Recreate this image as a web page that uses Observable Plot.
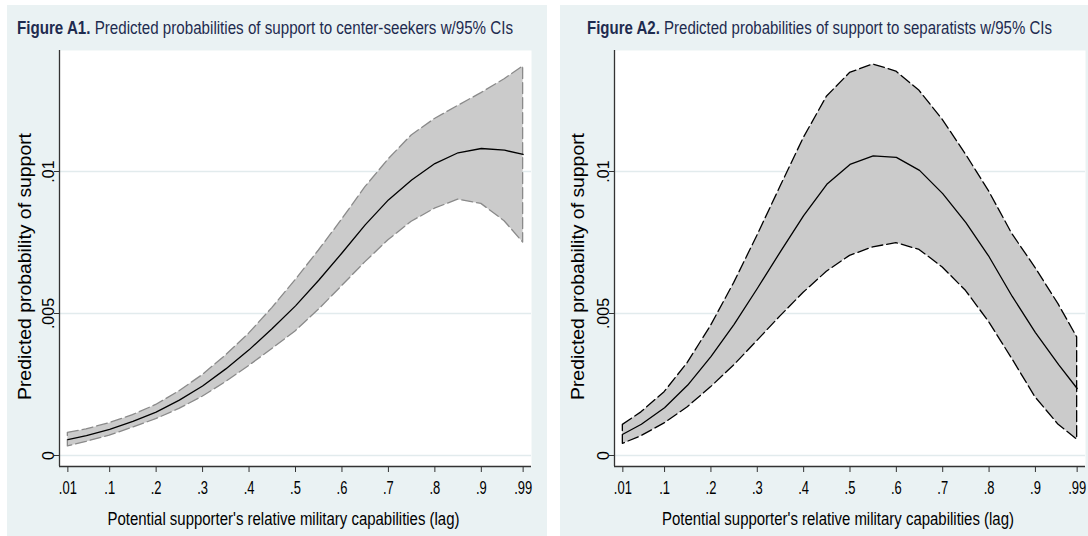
<!DOCTYPE html>
<html>
<head>
<meta charset="utf-8">
<script src="https://cdn.jsdelivr.net/npm/d3@7"></script>
<script src="https://cdn.jsdelivr.net/npm/@observablehq/plot@0.6"></script>
<style>
  html, body { margin: 0; padding: 0; background: #ffffff; }
  #page {
    position: relative; width: 1088px; height: 536px; overflow: hidden;
    font-family: "Liberation Sans Narrow", "Arial Narrow", "Liberation Sans", Arial, sans-serif;
  }
  .panel { position: absolute; top: 5px; height: 531px; background: #eaf2f3; }
  .title {
    position: absolute; top: 15px; white-space: nowrap; line-height: 1;
    font-size: 17.5px; color: #1e2b4f; transform-origin: 0 50%;
  }
  .title b { font-weight: bold; }
  .panel svg { position: absolute; left: 0; top: 40px; overflow: visible; }
</style>
</head>
<body>
<div id="page">
  <div class="panel" id="left" style="left:7px;width:540px;">
    <div class="title" data-width="496" style="left:10px;"><b>Figure A1.</b> Predicted probabilities of support to center-seekers w/95% CIs</div>
  </div>
  <div class="panel" id="right" style="left:560px;width:528px;">
    <div class="title" data-width="465" style="left:27px;"><b>Figure A2.</b> Predicted probabilities of support to separatists w/95% CIs</div>
  </div>
</div>
<script>
// Relative military capabilities at which margins were evaluated
const capability = [0.01, 0.05, 0.10, 0.15, 0.20, 0.25, 0.30, 0.35, 0.40, 0.45, 0.50,
                    0.55, 0.60, 0.65, 0.70, 0.75, 0.80, 0.85, 0.90, 0.95, 0.99];

// Support to center-seekers: predicted probability and 95% CI bounds
const centerFit   = [0.00056, 0.00070, 0.00092, 0.00120, 0.00153, 0.00195, 0.00245, 0.00305, 0.00372, 0.00447, 0.00527,
                     0.00617, 0.00713, 0.00812, 0.00900, 0.00970, 0.01028, 0.01066, 0.01081, 0.01075, 0.01060];
const centerLower = [0.00032, 0.00048, 0.00070, 0.00098, 0.00128, 0.00164, 0.00207, 0.00258, 0.00315, 0.00375, 0.00437,
                     0.00513, 0.00596, 0.00680, 0.00758, 0.00823, 0.00869, 0.00901, 0.00886, 0.00825, 0.00750];
const centerUpper = [0.00080, 0.00092, 0.00114, 0.00142, 0.00178, 0.00226, 0.00283, 0.00352, 0.00429, 0.00519, 0.00617,
                     0.00721, 0.00830, 0.00944, 0.01042, 0.01127, 0.01185, 0.01231, 0.01276, 0.01325, 0.01370];

// Support to separatists: predicted probability and 95% CI bounds
const sepFit   = [0.00075, 0.00110, 0.00168, 0.00248, 0.00348, 0.00462, 0.00588, 0.00718, 0.00845, 0.00955, 0.01025,
                  0.01055, 0.01050, 0.01004, 0.00922, 0.00820, 0.00700, 0.00560, 0.00433, 0.00320, 0.00236];
const sepLower = [0.00041, 0.00068, 0.00113, 0.00170, 0.00240, 0.00317, 0.00403, 0.00490, 0.00573, 0.00647, 0.00703,
                  0.00733, 0.00748, 0.00724, 0.00662, 0.00580, 0.00470, 0.00340, 0.00205, 0.00108, 0.00056];
const sepUpper = [0.00108, 0.00152, 0.00223, 0.00326, 0.00456, 0.00607, 0.00773, 0.00946, 0.01117, 0.01263, 0.01347,
                  0.01377, 0.01352, 0.01284, 0.01182, 0.01060, 0.00930, 0.00780, 0.00661, 0.00532, 0.00416];

// Axis ticks and their labels
const xTicks = [0.01, 0.1, 0.2, 0.3, 0.4, 0.5, 0.6, 0.7, 0.8, 0.9, 0.99];
const xTickLabels = [".01", ".1", ".2", ".3", ".4", ".5", ".6", ".7", ".8", ".9", ".99"];
const yTicks = [0, 0.005, 0.01];
const yTickLabels = ["0", ".005", ".01"];

const xTitle = "Potential supporter's relative military capabilities (lag)";
const yTitle = "Predicted probability of support";

const xDomain = [-0.008, 1.008];
const yDomain = [-0.000387, 0.014261];
const FONT = '"Liberation Sans Narrow", "Arial Narrow", "Liberation Sans", Arial, sans-serif';

function rowsOf(fit, lower, upper) {
  return capability.map((v, i) => ({v, fit: fit[i], lo: lower[i], up: upper[i]}));
}

// Squeeze or stretch an SVG text run to a given length
function setLength(el, length) {
  el.setAttribute("textLength", length.toFixed(1));
  el.setAttribute("lengthAdjust", "spacingAndGlyphs");
}

function drawPanel(target, rows, {width, marginLeft, marginRight, bandStroke}) {
  const chart = Plot.plot({
    width, height: 491,
    marginLeft, marginRight, marginTop: 5, marginBottom: 70,
    style: {background: "transparent", fontFamily: FONT, fontSize: "17px", color: "#000"},
    x: {domain: xDomain, axis: null},
    y: {domain: yDomain, axis: null},
    marks: [
      Plot.frame({fill: "white", stroke: null}),
      Plot.gridY(yTicks, {stroke: "#e2ebed", strokeOpacity: 1, strokeWidth: 1.3}),
      Plot.areaY(rows, {x: "v", y1: "lo", y2: "up", fill: "#cbcbcb",
                        stroke: bandStroke, strokeWidth: 1.3, strokeDasharray: "11,4"}),
      Plot.lineY(rows, {x: "v", y: "fit", stroke: "#000", strokeWidth: 1.3}),
      Plot.ruleX([xDomain[0]], {stroke: "#333", strokeWidth: 1.3}),
      Plot.ruleY([yDomain[0]], {stroke: "#333", strokeWidth: 1.3}),
      Plot.axisX(xTicks, {tickFormat: (d) => xTickLabels[xTicks.indexOf(d)], tickSize: 6, tickPadding: 9,
                          fontSize: 18, stroke: "#333", label: null}),
      Plot.axisY(yTicks, {tickFormat: (d) => yTickLabels[yTicks.indexOf(d)], tickSize: 5, tickRotate: -90,
                          tickPadding: 1, fontSize: 16, stroke: "#333", label: null}),
      Plot.text([xTitle], {text: d => d, frameAnchor: "bottom", textAnchor: "middle", lineAnchor: "middle",
                           dy: 53, dx: -12, fontSize: 17.5, fill: "#000"}),
      Plot.text([yTitle], {text: d => d, frameAnchor: "left", textAnchor: "middle", lineAnchor: "middle",
                           rotate: -90, dx: 18 - marginLeft, dy: 8, fontSize: 18, fill: "#000"})
    ]
  });
  document.getElementById(target).appendChild(chart);

  // Condensed lettering for the horizontal labels, longer run for the vertical title
  chart.querySelectorAll('g[aria-label="x-axis tick label"] text')
    .forEach(t => setLength(t, t.getComputedTextLength() * 0.72));
  chart.querySelectorAll("text").forEach(t => {
    if (t.textContent === xTitle) setLength(t, 352);
    if (t.textContent === yTitle) setLength(t, 267);
  });
}

drawPanel("left", rowsOf(centerFit, centerLower, centerUpper),
          {width: 540, marginLeft: 52, marginRight: 16, bandStroke: "#8a8a8a"});
drawPanel("right", rowsOf(sepFit, sepLower, sepUpper),
          {width: 528, marginLeft: 54, marginRight: 3, bandStroke: "#000"});

// Fit each panel heading to its run length
document.querySelectorAll(".title").forEach(el => {
  const w = el.getBoundingClientRect().width;
  el.style.transform = `scaleX(${(+el.dataset.width / w).toFixed(4)})`;
});
</script>
</body>
</html>
